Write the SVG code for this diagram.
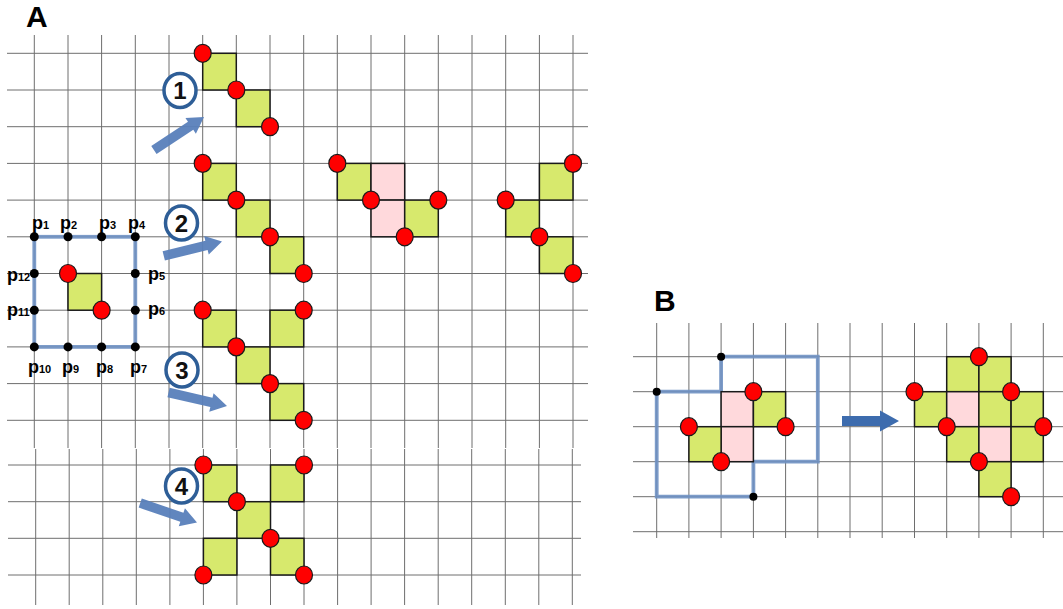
<svg xmlns="http://www.w3.org/2000/svg" width="1063" height="609" viewBox="0 0 1063 609">
  <defs>
    <style>
      .grid { stroke: #6e6e6e; stroke-width: 1; fill: none; }
      .g { fill: #d7e96d; stroke: #1a1a1a; stroke-width: 1.5; }
      .pk { fill: #ffd9dc; stroke: #1a1a1a; stroke-width: 1.5; }
      .rd { fill: #ff0000; stroke: #1a1a1a; stroke-width: 1.2; }
      .bd { fill: #000000; }
      .outline { fill: none; stroke: #6f91c3; stroke-width: 3.8; stroke-opacity: 0.9; stroke-linejoin: miter; }
      .ring { fill: #ffffff; stroke: #2e5e97; stroke-width: 3.5; }
      .num { font-family: "Liberation Sans", Arial, sans-serif; font-weight: bold; font-size: 24px; fill: #111; text-anchor: middle; }
      .panel { font-family: "Liberation Sans", Arial, sans-serif; font-weight: bold; font-size: 30px; fill: #000; }
      .pl { font-family: "Liberation Sans", Arial, sans-serif; font-weight: bold; font-size: 18px; fill: #000; }
      .sub { font-size: 11px; }
      .arrA { fill: #5880ba; fill-opacity: 0.95; }
      .arrB { fill: #3d6cae; }
    </style>
    <!-- block arrow pointing right, tip at origin -->
    <polygon id="blockArrow" points="-60,-4.8 -16,-4.8 -16,-9.5 0,0 -16,9.5 -16,4.8 -60,4.8"/>
  </defs>

  <!-- panel labels -->
  <text class="panel" x="26" y="27">A</text>
  <text class="panel" x="654" y="311">B</text>

  <!-- grids -->
  <g id="grid-a-upper" class="grid">
    <path d="M34.3,35V448 M68,35V448 M101.6,35V448 M135.3,35V448 M169,35V448 M202.7,35V448 M236.3,35V448 M270,35V448 M303.7,35V448 M337.3,35V448 M371,35V448 M404.7,35V448 M438.3,35V448 M472,35V448 M505.7,35V448 M539.4,35V448 M573,35V448"/>
    <path d="M7,53.3H588 M7,90H588 M7,126.7H588 M7,163.4H588 M7,200.1H588 M7,236.8H588 M7,273.5H588 M7,310.2H588 M7,346.9H588 M7,383.6H588 M7,420.3H588"/>
  </g>
  <g id="grid-a-lower" class="grid">
    <path d="M35.7,449V605 M69.2,449V605 M102.8,449V605 M136.3,449V605 M169.9,449V605 M203.4,449V605 M236.9,449V605 M270.5,449V605 M304,449V605 M337.6,449V605 M371.1,449V605 M404.6,449V605 M438.2,449V605 M471.7,449V605 M505.3,449V605 M538.8,449V605 M572.3,449V605"/>
    <path d="M8,465H581 M8,501.7H581 M8,538.3H581 M8,575H581"/>
  </g>
  <g id="grid-b" class="grid">
    <path d="M656.7,323V538 M688.9,323V538 M721.1,323V538 M753.4,323V538 M785.6,323V538 M817.8,323V538 M850,323V538 M882.2,323V538 M914.5,323V538 M946.7,323V538 M978.9,323V538 M1011.1,323V538 M1043.3,323V538"/>
    <path d="M633,356.7H1063 M633,391.7H1063 M633,426.7H1063 M633,461.7H1063 M633,496.7H1063 M633,531.7H1063"/>
  </g>

  <!-- connectors: arrows -->
  <g id="connectors">
    <use href="#blockArrow" class="arrA" transform="translate(204,117) rotate(-33.4)"/>
    <use href="#blockArrow" class="arrA" transform="translate(222,241.5) rotate(-13.9)"/>
    <use href="#blockArrow" class="arrA" transform="translate(227,406) rotate(13)"/>
    <use href="#blockArrow" class="arrA" transform="translate(197,522.5) rotate(18.9)"/>
    <polygon class="arrB" points="842,416 880,416 880,410.5 899,421 880,431.5 880,426 842,426"/>
  </g>

  <!-- step labels -->
  <g id="step-1"><ellipse class="ring" cx="180" cy="90.5" rx="16" ry="17"/><text class="num" x="180" y="99">1</text></g>
  <g id="step-2"><ellipse class="ring" cx="181.5" cy="223" rx="16" ry="17"/><text class="num" x="181.5" y="231.5">2</text></g>
  <g id="step-3"><ellipse class="ring" cx="182" cy="370" rx="16" ry="17"/><text class="num" x="182" y="378.5">3</text></g>
  <g id="step-4"><ellipse class="ring" cx="181.5" cy="486" rx="16" ry="17"/><text class="num" x="181.5" y="494.5">4</text></g>

  <!-- initial configuration with its boundary points -->
  <g id="initial">
    <rect class="outline" x="34.3" y="236.8" width="101" height="110.1"/>
    <rect class="g" x="68" y="273.5" width="33.6" height="36.7"/>
    <ellipse class="rd" cx="68" cy="273.5" rx="8.5" ry="9"/>
    <ellipse class="rd" cx="101.6" cy="310.2" rx="8.5" ry="9"/>
    <circle class="bd" cx="34.3" cy="236.8" r="4.5"/>
    <circle class="bd" cx="68" cy="236.8" r="4.5"/>
    <circle class="bd" cx="101.6" cy="236.8" r="4.5"/>
    <circle class="bd" cx="135.3" cy="236.8" r="4.5"/>
    <circle class="bd" cx="135.3" cy="273.5" r="4.5"/>
    <circle class="bd" cx="135.3" cy="310.2" r="4.5"/>
    <circle class="bd" cx="135.3" cy="346.9" r="4.5"/>
    <circle class="bd" cx="101.6" cy="346.9" r="4.5"/>
    <circle class="bd" cx="68" cy="346.9" r="4.5"/>
    <circle class="bd" cx="34.3" cy="346.9" r="4.5"/>
    <circle class="bd" cx="34.3" cy="310.2" r="4.5"/>
    <circle class="bd" cx="34.3" cy="273.5" r="4.5"/>
    <text class="pl" x="32" y="229">p<tspan class="sub">1</tspan></text>
    <text class="pl" x="60" y="229">p<tspan class="sub">2</tspan></text>
    <text class="pl" x="99" y="229">p<tspan class="sub">3</tspan></text>
    <text class="pl" x="128" y="229">p<tspan class="sub">4</tspan></text>
    <text class="pl" x="148" y="280">p<tspan class="sub">5</tspan></text>
    <text class="pl" x="148" y="315">p<tspan class="sub">6</tspan></text>
    <text class="pl" x="130" y="373">p<tspan class="sub">7</tspan></text>
    <text class="pl" x="96" y="373">p<tspan class="sub">8</tspan></text>
    <text class="pl" x="62" y="373">p<tspan class="sub">9</tspan></text>
    <text class="pl" x="28" y="373">p<tspan class="sub">10</tspan></text>
    <text class="pl" x="7" y="316">p<tspan class="sub">11</tspan></text>
    <text class="pl" x="7" y="281">p<tspan class="sub">12</tspan></text>
  </g>

  <!-- option 1 -->
  <g id="shape-1">
    <rect class="g" x="202.7" y="53.3" width="33.6" height="36.7"/>
    <rect class="g" x="236.3" y="90" width="33.7" height="36.7"/>
    <ellipse class="rd" cx="202.7" cy="53.3" rx="8.5" ry="9"/>
    <ellipse class="rd" cx="236.3" cy="90" rx="8.5" ry="9"/>
    <ellipse class="rd" cx="270" cy="126.7" rx="8.5" ry="9"/>
  </g>

  <!-- option 2 -->
  <g id="shape-2">
    <rect class="g" x="202.7" y="163.4" width="33.6" height="36.7"/>
    <rect class="g" x="236.3" y="200.1" width="33.7" height="36.7"/>
    <rect class="g" x="270" y="236.8" width="33.7" height="36.7"/>
    <ellipse class="rd" cx="202.7" cy="163.4" rx="8.5" ry="9"/>
    <ellipse class="rd" cx="236.3" cy="200.1" rx="8.5" ry="9"/>
    <ellipse class="rd" cx="270" cy="236.8" rx="8.5" ry="9"/>
    <ellipse class="rd" cx="303.7" cy="273.5" rx="8.5" ry="9"/>
  </g>

  <!-- option 2, merged variant -->
  <g id="shape-2b">
    <rect class="g" x="337.3" y="163.4" width="33.7" height="36.7"/>
    <rect class="pk" x="371" y="163.4" width="33.7" height="36.7"/>
    <rect class="pk" x="371" y="200.1" width="33.7" height="36.7"/>
    <rect class="g" x="404.7" y="200.1" width="33.6" height="36.7"/>
    <ellipse class="rd" cx="337.3" cy="163.4" rx="8.5" ry="9"/>
    <ellipse class="rd" cx="371" cy="200.1" rx="8.5" ry="9"/>
    <ellipse class="rd" cx="438.3" cy="200.1" rx="8.5" ry="9"/>
    <ellipse class="rd" cx="404.7" cy="236.8" rx="8.5" ry="9"/>
  </g>

  <!-- option 2, branching variant -->
  <g id="shape-2c">
    <rect class="g" x="539.4" y="163.4" width="33.6" height="36.7"/>
    <rect class="g" x="505.7" y="200.1" width="33.7" height="36.7"/>
    <rect class="g" x="539.4" y="236.8" width="33.6" height="36.7"/>
    <ellipse class="rd" cx="573" cy="163.4" rx="8.5" ry="9"/>
    <ellipse class="rd" cx="505.7" cy="200.1" rx="8.5" ry="9"/>
    <ellipse class="rd" cx="539.4" cy="236.8" rx="8.5" ry="9"/>
    <ellipse class="rd" cx="573" cy="273.5" rx="8.5" ry="9"/>
  </g>

  <!-- option 3 -->
  <g id="shape-3">
    <rect class="g" x="202.7" y="310.2" width="33.6" height="36.7"/>
    <rect class="g" x="236.3" y="346.9" width="33.7" height="36.7"/>
    <rect class="g" x="270" y="383.6" width="33.7" height="36.7"/>
    <rect class="g" x="270" y="310.2" width="33.7" height="36.7"/>
    <ellipse class="rd" cx="202.7" cy="310.2" rx="8.5" ry="9"/>
    <ellipse class="rd" cx="236.3" cy="346.9" rx="8.5" ry="9"/>
    <ellipse class="rd" cx="270" cy="383.6" rx="8.5" ry="9"/>
    <ellipse class="rd" cx="303.7" cy="420.3" rx="8.5" ry="9"/>
    <ellipse class="rd" cx="303.7" cy="310.2" rx="8.5" ry="9"/>
  </g>

  <!-- option 4 -->
  <g id="shape-4">
    <rect class="g" x="203.4" y="465" width="33.5" height="36.7"/>
    <rect class="g" x="236.9" y="501.7" width="33.6" height="36.6"/>
    <rect class="g" x="203.4" y="538.3" width="33.5" height="36.7"/>
    <rect class="g" x="270.5" y="465" width="33.5" height="36.7"/>
    <rect class="g" x="270.5" y="538.3" width="33.5" height="36.7"/>
    <ellipse class="rd" cx="203.4" cy="465" rx="8.5" ry="9"/>
    <ellipse class="rd" cx="236.9" cy="501.7" rx="8.5" ry="9"/>
    <ellipse class="rd" cx="304" cy="465" rx="8.5" ry="9"/>
    <ellipse class="rd" cx="270.5" cy="538.3" rx="8.5" ry="9"/>
    <ellipse class="rd" cx="203.4" cy="575" rx="8.5" ry="9"/>
    <ellipse class="rd" cx="304" cy="575" rx="8.5" ry="9"/>
  </g>

  <!-- panel B, before -->
  <g id="b-before">
    <path class="outline" d="M656.7,391.7V496.7H753.4V461.7H817.8V356.7H721.1V391.7Z"/>
    <rect class="pk" x="721.1" y="391.7" width="32.3" height="35"/>
    <rect class="pk" x="721.1" y="426.7" width="32.3" height="35"/>
    <rect class="g" x="753.4" y="391.7" width="32.2" height="35"/>
    <rect class="g" x="688.9" y="426.7" width="32.2" height="35"/>
    <ellipse class="rd" cx="753.4" cy="391.7" rx="8.5" ry="9"/>
    <ellipse class="rd" cx="688.9" cy="426.7" rx="8.5" ry="9"/>
    <ellipse class="rd" cx="785.6" cy="426.7" rx="8.5" ry="9"/>
    <ellipse class="rd" cx="721.1" cy="461.7" rx="8.5" ry="9"/>
    <circle class="bd" cx="721.1" cy="356.7" r="4"/>
    <circle class="bd" cx="656.7" cy="391.7" r="4"/>
    <circle class="bd" cx="753.4" cy="496.7" r="4"/>
  </g>

  <!-- panel B, after -->
  <g id="b-after">
    <rect class="g" x="946.7" y="356.7" width="32.2" height="35"/>
    <rect class="g" x="978.9" y="356.7" width="32.2" height="35"/>
    <rect class="g" x="914.5" y="391.7" width="32.2" height="35"/>
    <rect class="pk" x="946.7" y="391.7" width="32.2" height="35"/>
    <rect class="g" x="978.9" y="391.7" width="32.2" height="35"/>
    <rect class="g" x="1011.1" y="391.7" width="32.2" height="35"/>
    <rect class="g" x="946.7" y="426.7" width="32.2" height="35"/>
    <rect class="pk" x="978.9" y="426.7" width="32.2" height="35"/>
    <rect class="g" x="1011.1" y="426.7" width="32.2" height="35"/>
    <rect class="g" x="978.9" y="461.7" width="32.2" height="35"/>
    <ellipse class="rd" cx="978.9" cy="356.7" rx="8.5" ry="9"/>
    <ellipse class="rd" cx="914.5" cy="391.7" rx="8.5" ry="9"/>
    <ellipse class="rd" cx="1011.1" cy="391.7" rx="8.5" ry="9"/>
    <ellipse class="rd" cx="1043.3" cy="426.7" rx="8.5" ry="9"/>
    <ellipse class="rd" cx="946.7" cy="426.7" rx="8.5" ry="9"/>
    <ellipse class="rd" cx="978.9" cy="461.7" rx="8.5" ry="9"/>
    <ellipse class="rd" cx="1011.1" cy="496.7" rx="8.5" ry="9"/>
  </g>
</svg>
